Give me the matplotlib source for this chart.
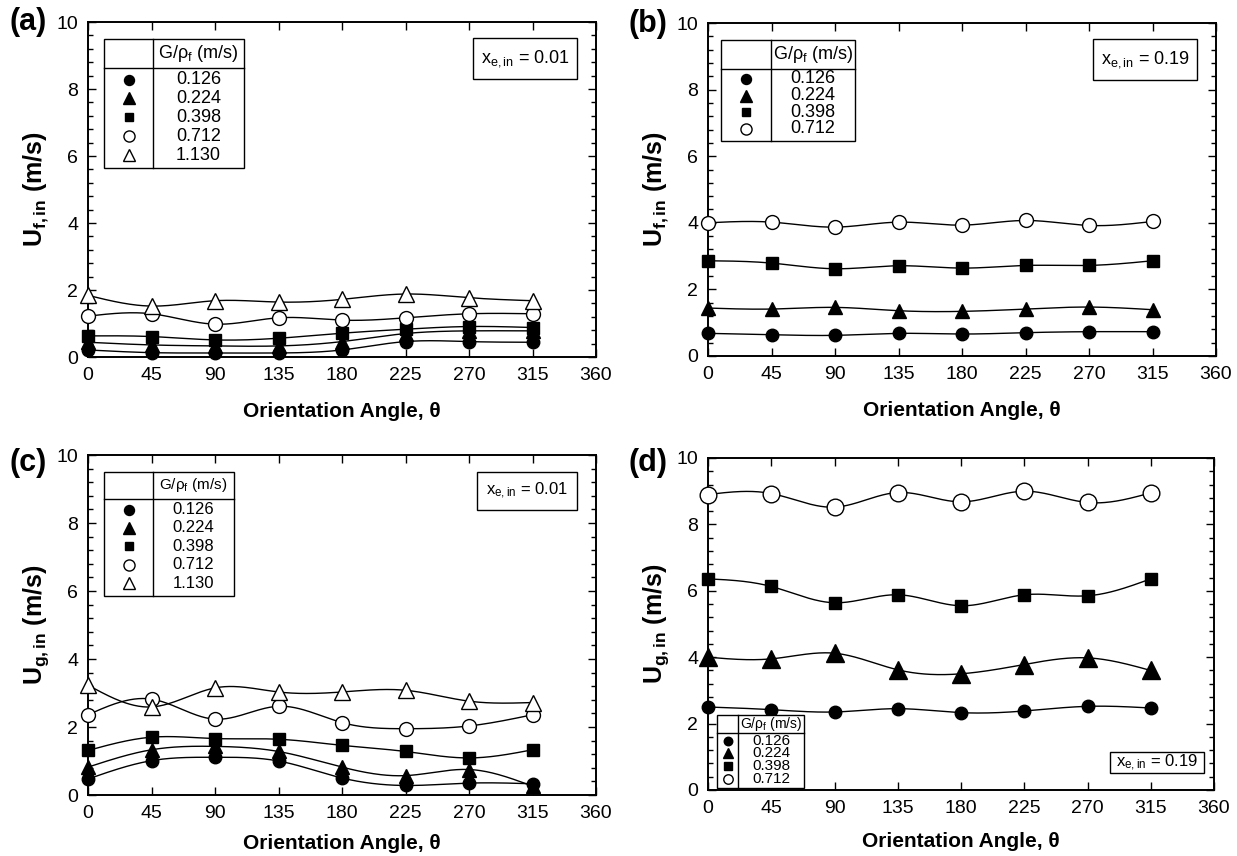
import numpy as np
import matplotlib
matplotlib.use('Agg')
import matplotlib.pyplot as plt
from matplotlib.ticker import MultipleLocator
from matplotlib.patches import Rectangle
from matplotlib.lines import Line2D

plt.rcParams['font.family'] = ['Liberation Sans', 'DejaVu Sans']
plt.rcParams['mathtext.fontset'] = 'custom'
plt.rcParams['mathtext.rm'] = 'Liberation Sans'
plt.rcParams['mathtext.it'] = 'Liberation Sans:italic'
plt.rcParams['mathtext.bf'] = 'Liberation Sans:bold'

# ---------------- data ----------------
theta = [0, 45, 90, 135, 180, 225, 270, 315]
flow_labels = ['0.126', '0.224', '0.398', '0.712', '1.130']

# (a) U_f,in, x_e,in = 0.01
a_0126 = [0.21, 0.13, 0.12, 0.12, 0.21, 0.46, 0.46, 0.44]
a_0224 = [0.44, 0.36, 0.33, 0.33, 0.46, 0.70, 0.78, 0.78]
a_0398 = [0.63, 0.61, 0.51, 0.56, 0.71, 0.83, 0.91, 0.88]
a_0712 = [1.22, 1.29, 0.98, 1.17, 1.10, 1.17, 1.29, 1.29]
a_1130 = [1.84, 1.52, 1.68, 1.64, 1.72, 1.88, 1.77, 1.68]

# (b) U_f,in, x_e,in = 0.19
b_0126 = [0.68, 0.64, 0.62, 0.68, 0.66, 0.70, 0.73, 0.73]
b_0224 = [1.44, 1.41, 1.46, 1.36, 1.34, 1.41, 1.47, 1.39]
b_0398 = [2.86, 2.79, 2.62, 2.71, 2.64, 2.72, 2.72, 2.86]
b_0712 = [4.00, 4.02, 3.87, 4.02, 3.93, 4.07, 3.92, 4.04]

# (c) U_g,in, x_e,in = 0.01
c_0126 = [0.47, 1.01, 1.11, 1.00, 0.50, 0.28, 0.35, 0.33]
c_0224 = [0.82, 1.33, 1.43, 1.28, 0.82, 0.57, 0.75, 0.26]
c_0398 = [1.31, 1.70, 1.66, 1.64, 1.46, 1.28, 1.09, 1.33]
c_0712 = [2.36, 2.82, 2.23, 2.61, 2.13, 1.95, 2.03, 2.36]
c_1130 = [3.23, 2.59, 3.15, 3.03, 3.03, 3.08, 2.76, 2.72]

# (d) U_g,in, x_e,in = 0.19
d_0126 = [2.50, 2.42, 2.35, 2.45, 2.33, 2.38, 2.52, 2.47]
d_0224 = [4.00, 3.95, 4.12, 3.62, 3.50, 3.78, 3.98, 3.60]
d_0398 = [6.36, 6.13, 5.64, 5.88, 5.55, 5.88, 5.85, 6.36]
d_0712 = [8.90, 8.93, 8.52, 8.96, 8.68, 9.00, 8.66, 8.95]

# ---------------- helpers ----------------
def smooth(x, y, n=300):
    """Natural cubic spline through the measured points (for drawing the curve)."""
    x = np.asarray(x, float); y = np.asarray(y, float)
    m = len(x)
    h = np.diff(x)
    A = np.zeros((m, m)); r = np.zeros(m)
    A[0, 0] = 1; A[-1, -1] = 1
    for i in range(1, m - 1):
        A[i, i - 1] = h[i - 1]
        A[i, i] = 2 * (h[i - 1] + h[i])
        A[i, i + 1] = h[i]
        r[i] = 6 * ((y[i + 1] - y[i]) / h[i] - (y[i] - y[i - 1]) / h[i - 1])
    M = np.linalg.solve(A, r)
    xs = np.linspace(x[0], x[-1], n)
    idx = np.clip(np.searchsorted(x, xs) - 1, 0, m - 2)
    x0 = x[idx]; x1 = x[idx + 1]; hh = x1 - x0
    t0 = x1 - xs; t1 = xs - x0
    ys = (M[idx] * t0**3 / (6 * hh) + M[idx + 1] * t1**3 / (6 * hh)
          + (y[idx] / hh - M[idx] * hh / 6) * t0
          + (y[idx + 1] / hh - M[idx + 1] * hh / 6) * t1)
    return xs, ys

styles = {
    '0.126': dict(marker='o', mfc='black', ms=9),
    '0.224': dict(marker='^', mfc='black', ms=10),
    '0.398': dict(marker='s', mfc='black', ms=8),
    '0.712': dict(marker='o', mfc='white', ms=10),
    '1.130': dict(marker='^', mfc='white', ms=11),
}

W, H = 1237, 856
fig = plt.figure(figsize=(W / 100, H / 100), dpi=100)


def make_ax(l, r, t, b, xpad=13):
    ax = fig.add_axes([l / W, 1 - b / H, (r - l) / W, (b - t) / H])
    ax.set_xlim(0, 360)
    ax.set_ylim(0, 10)
    ax.xaxis.set_major_locator(MultipleLocator(45))
    ax.yaxis.set_major_locator(MultipleLocator(2))
    ax.yaxis.set_minor_locator(MultipleLocator(0.4))
    ax.tick_params(which='both', direction='in', top=True, right=True,
                   labelsize=14, width=1.0, colors='black')
    ax.tick_params(which='major', length=6, pad=7)
    ax.tick_params(which='minor', length=3.5)
    for s in ax.spines.values():
        s.set_linewidth(1.4)
    ax.set_xlabel('Orientation Angle, θ', fontsize=15, fontweight='bold', labelpad=xpad)
    return ax


def plot_series(ax, series, big=None):
    for lab, vals in series:
        st = dict(styles[lab])
        if big and lab in big:
            st['ms'] = big[lab]
        xs, ys = smooth(theta, vals)
        ax.plot(xs, ys, color='black', lw=1.0, zorder=2)
        ax.plot(theta, vals, ls='none', marker=st['marker'], mfc=st['mfc'],
                mec='black', mew=1.0, ms=st['ms'], clip_on=False, zorder=3)


def legend_table(ax, x0, x1, xd, ytop, yhead, ybot, rows, fs=13, hfs=13, ms_scale=1.0):
    tr = ax.transAxes
    ax.add_patch(Rectangle((x0, ybot), x1 - x0, ytop - ybot, transform=tr,
                           fill=True, fc='white', ec='black', lw=1.0, zorder=5))
    ax.add_line(Line2D([x0, x1], [yhead, yhead], transform=tr, color='black', lw=1.0, zorder=6))
    ax.add_line(Line2D([xd, xd], [ybot, ytop], transform=tr, color='black', lw=1.0, zorder=6))
    ax.text((xd + x1) / 2, (ytop + yhead) / 2, 'G/ρ$_\\mathregular{f}$ (m/s)', transform=tr,
            ha='center', va='center', fontsize=hfs, zorder=7)
    n = len(rows)
    step = (yhead - ybot) / (n + 0.3)
    for i, lab in enumerate(rows):
        y = yhead - step * (i + 0.6)
        st = styles[lab]
        ax.plot([(x0 + xd) / 2], [y], transform=tr, ls='none', marker=st['marker'],
                mfc=st['mfc'], mec='black', mew=1.0, ms=st['ms'] * 0.8 * ms_scale,
                clip_on=False, zorder=7)
        ax.text((xd + x1) / 2, y, lab, transform=tr, ha='center', va='center',
                fontsize=fs, zorder=7)


def xe_box(ax, x0, x1, yb, yt, val, fs=13):
    tr = ax.transAxes
    ax.add_patch(Rectangle((x0, yb), x1 - x0, yt - yb, transform=tr,
                           fill=True, fc='white', ec='black', lw=1.0, zorder=5))
    ax.text((x0 + x1) / 2, (yb + yt) / 2, 'x$_\\mathregular{e,in}$ = ' + val, transform=tr,
            ha='center', va='center', fontsize=fs, zorder=7)


YLAB_FS = 18
YLAB_PAD = 4

# ---------------- panel (a) ----------------
axa = make_ax(88, 596, 22, 357)
plot_series(axa, [('0.126', a_0126), ('0.224', a_0224), ('0.398', a_0398),
                  ('0.712', a_0712), ('1.130', a_1130)])
axa.set_ylabel('U$_{\\mathbf{f,in}}$ (m/s)', fontsize=YLAB_FS, fontweight='bold', labelpad=YLAB_PAD)
legend_table(axa, 0.0315, 0.307, 0.1285, 0.949, 0.862, 0.563, flow_labels)
xe_box(axa, 0.758, 0.963, 0.829, 0.951, '0.01')

# ---------------- panel (b) ----------------
axb = make_ax(708, 1216, 23, 356)
plot_series(axb, [('0.126', b_0126), ('0.224', b_0224), ('0.398', b_0398),
                  ('0.712', b_0712)])
axb.set_ylabel('U$_{\\mathbf{f,in}}$ (m/s)', fontsize=YLAB_FS, fontweight='bold', labelpad=YLAB_PAD)
legend_table(axb, 0.026, 0.290, 0.124, 0.949, 0.862, 0.647, flow_labels[:4])
xe_box(axb, 0.758, 0.963, 0.829, 0.951, '0.19')

# ---------------- panel (c) ----------------
axc = make_ax(88, 596, 455, 795, xpad=9)
plot_series(axc, [('0.126', c_0126), ('0.224', c_0224), ('0.398', c_0398),
                  ('0.712', c_0712), ('1.130', c_1130)])
axc.set_ylabel('U$_{\\mathbf{g,in}}$ (m/s)', fontsize=YLAB_FS, fontweight='bold', labelpad=YLAB_PAD)
legend_table(axc, 0.0315, 0.287, 0.1285, 0.949, 0.872, 0.585, flow_labels, fs=12, hfs=11)
xe_box(axc, 0.765, 0.963, 0.838, 0.951, '0.01', fs=12)

# ---------------- panel (d) ----------------
axd = make_ax(708, 1214, 458, 790, xpad=11)
plot_series(axd, [('0.126', d_0126), ('0.224', d_0224), ('0.398', d_0398),
                  ('0.712', d_0712)], big={'0.224': 13, '0.712': 12})
axd.set_ylabel('U$_{\\mathbf{g,in}}$ (m/s)', fontsize=YLAB_FS, fontweight='bold', labelpad=YLAB_PAD)
legend_table(axd, 0.018, 0.190, 0.060, 0.226, 0.171, 0.007, flow_labels[:4],
             fs=11, hfs=10, ms_scale=0.85)
xe_box(axd, 0.794, 0.980, 0.052, 0.113, '0.19', fs=12)

# panel letters
for (px, py), letter in zip([(28, 22), (648, 24), (28, 463), (648, 463)],
                            ['(a)', '(b)', '(c)', '(d)']):
    fig.text(px / W, 1 - py / H, letter, fontsize=22, fontweight='bold',
             ha='center', va='center')

fig.savefig('out.png', dpi=100)
